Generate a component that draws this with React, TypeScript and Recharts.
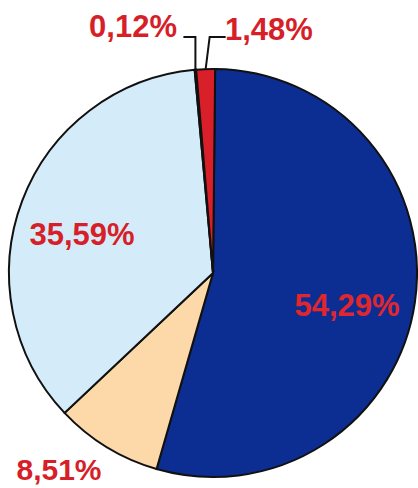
import React from "react"
import { PieChart, Pie, Cell } from "recharts"

const shares = ["54,29%", "8,51%", "35,59%", "0,12%", "1,48%"]
const values = [54.29, 8.51, 35.59, 0.12, 1.48]
const colors = ["#0c2e92", "#fdd8a8", "#d4ecfa", "#f4f4f4", "#d9202a"]

const data = values.map((v, i) => ({ name: shares[i], value: v }))

const RAD = Math.PI / 180

// where each percentage sits (x, baseline, anchor) and whether it needs a leader line
const labelPos: Record<number, { x: number; y: number; anchor: string; leader?: number; inside?: boolean }> = {
  0: { x: 347, y: 316, anchor: "middle", inside: true },
  1: { x: 59, y: 480, anchor: "middle" },
  2: { x: 82, y: 245, anchor: "middle" },
  3: { x: 177, y: 37, anchor: "end", leader: -12 },
  4: { x: 225, y: 40, anchor: "start", leader: 16 },
}

const renderLabel = (props: any) => {
  const { cx, cy, midAngle, outerRadius, index } = props
  const p = labelPos[index]
  if (!p) return null
  let leader = null
  if (p.leader !== undefined) {
    const sx = cx + outerRadius * Math.cos(-midAngle * RAD)
    const sy = cy + outerRadius * Math.sin(-midAngle * RAD)
    const ex = index === 3 ? sx : sx + 4
    const ey = 37
    leader = (
      <polyline
        points={`${sx},${sy} ${ex},${ey} ${ex + p.leader},${ey}`}
        fill="none"
        stroke="#111"
        strokeWidth={2}
      />
    )
  }
  return (
    <g>
      {leader}
      <text
        x={p.x}
        y={p.y}
        textAnchor={p.anchor as any}
        fill={p.inside ? "#e0262e" : "#d61f28"}
        fontFamily="'Liberation Sans', Arial, sans-serif"
        fontWeight={p.inside ? 600 : 700}
        fontSize={index === 1 ? 30 : 31}
      >
        {shares[index]}
      </text>
    </g>
  )
}

export default function App() {
  return (
    <div style={{ width: 418, height: 488, background: "#fff" }}>
      <style>{`body{margin:0}`}</style>
      <PieChart width={418} height={488} margin={{ top: 0, right: 0, bottom: 0, left: 0 }}>
        <Pie
          data={data}
          dataKey="value"
          cx={213}
          cy={273}
          outerRadius={204}
          startAngle={89.4}
          endAngle={-270.6}
          stroke="#111"
          strokeWidth={2}
          label={renderLabel}
          labelLine={false}
          isAnimationActive={false}
        >
          {data.map((d, i) => (
            <Cell key={d.name} fill={colors[i]} />
          ))}
        </Pie>
      </PieChart>
    </div>
  )
}
